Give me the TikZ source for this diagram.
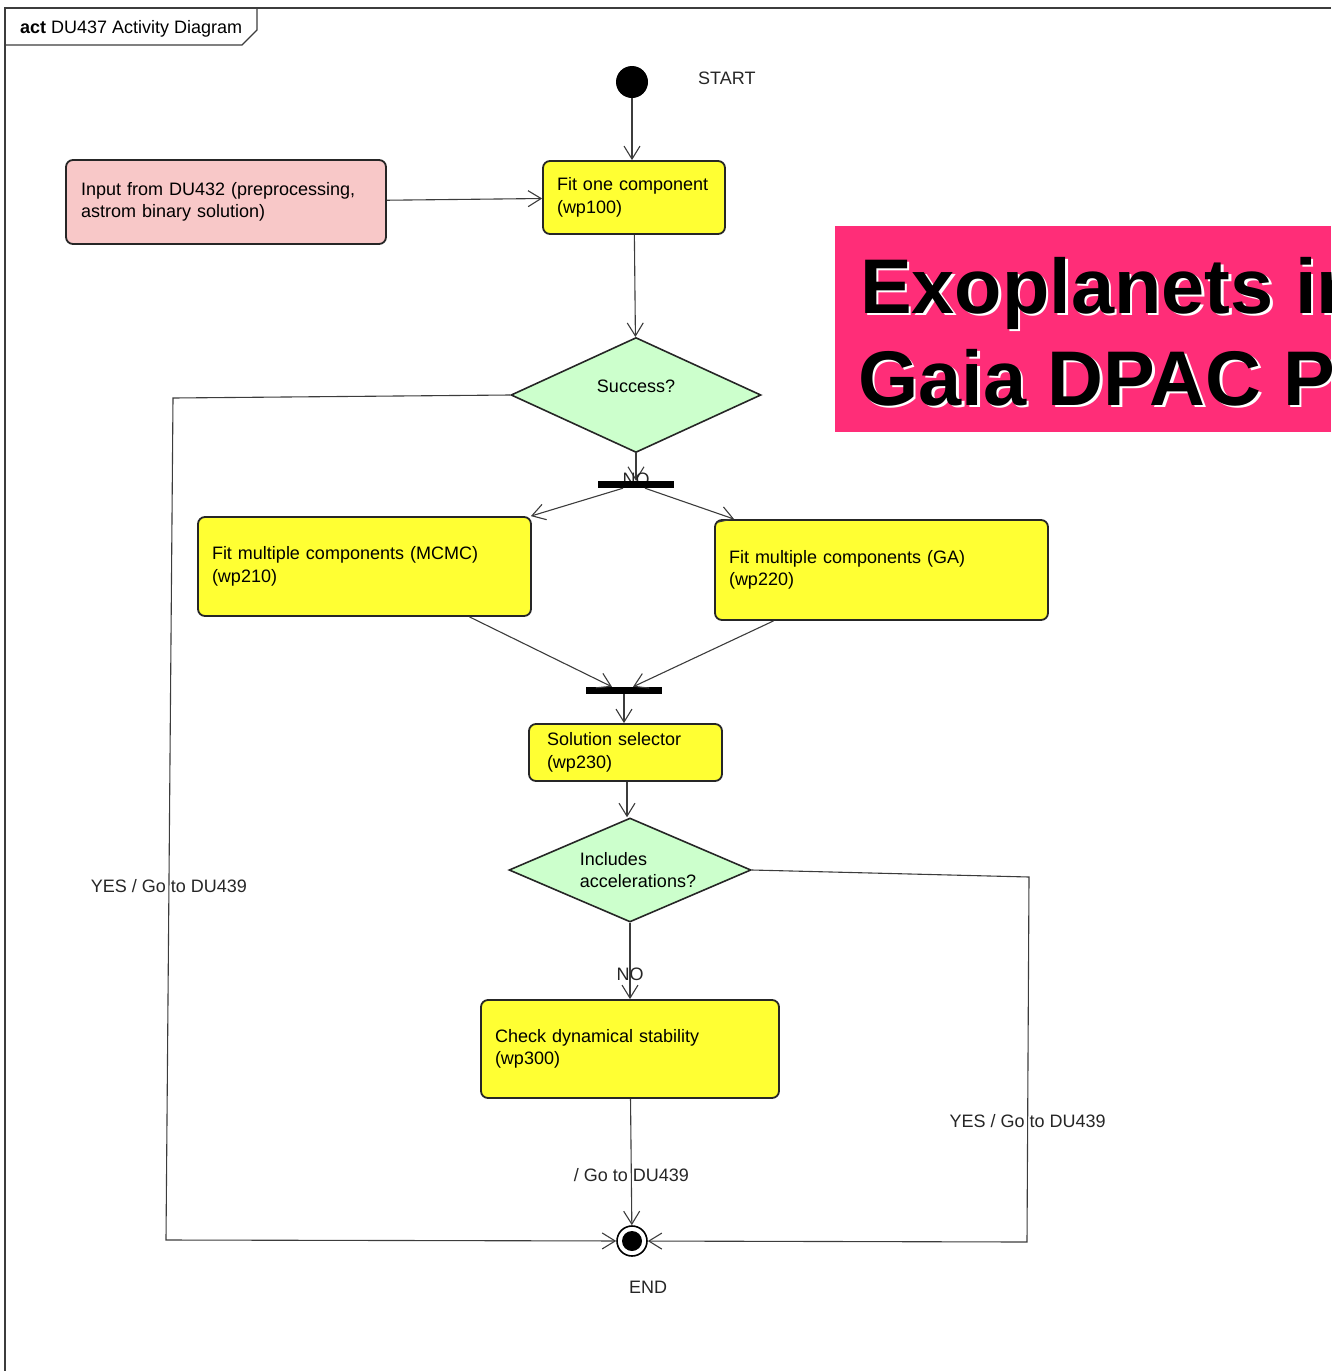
\documentclass[tikz,border=0pt]{standalone}
\usepackage{fontspec}
\setmainfont{Liberation Sans}
\usepackage{tikz}
\usetikzlibrary{arrows.meta,positioning,calc,shapes.geometric,backgrounds}
\definecolor{actyellow}{RGB}{255,255,51}
\definecolor{actgreen}{RGB}{204,255,204}
\definecolor{actpink}{RGB}{248,200,200}
\definecolor{bannerpink}{RGB}{255,45,120}
\definecolor{linegray}{RGB}{60,60,60}
\tikzset{
  actbox/.style={draw=black!85, line width=1.8pt, rounded corners=7pt, fill=actyellow, align=left, inner xsep=14pt, inner ysep=0pt, font=\fontsize{18}{22.5}\selectfont},
  inbox/.style={actbox, fill=actpink},
  decide/.style={diamond, draw=black!85, line width=1.6pt, fill=actgreen, inner sep=0pt, align=left, font=\fontsize{18}{22.5}\selectfont},
  bar/.style={fill=black, inner sep=0pt, minimum height=7pt},
  arr/.style={-{Straight Barb[length=13pt,width=16pt]}, linegray, line width=1.1pt},
  lbl/.style={font=\fontsize{18}{22}\selectfont, inner sep=1pt, text=black!85},
  banner/.style={font=\fontsize{77.5}{92}\selectfont\bfseries, anchor=base west, inner sep=0pt},
}

\begin{document}
\begin{tikzpicture}[x=1pt, y=-1pt]
  \useasboundingbox (0,0) rectangle (1331,1371);
  % frame and name tab
  \draw[linegray, line width=1.2pt] (5,1371) -- (5,8) -- (1331,8);
  \draw[linegray, line width=1.2pt] (257,8) -- (257,30) -- (242,45) -- (5,45);
  \node[anchor=west, inner sep=0pt, font=\fontsize{18}{20}\selectfont] (title) at (20,29) {\textbf{act} DU437 Activity Diagram};

  % nodes
  \node[circle, fill=black, minimum size=32pt, inner sep=0pt] (start) at (632,82) {};
  \node[lbl, anchor=west] (startlbl) at (697,78) {START};
  \node[actbox, minimum width=182pt, minimum height=73pt, text width=154pt] (fitone) at (634,197.5) {Fit one component\\(wp100)};
  \node[inbox, minimum width=320pt, minimum height=84pt, text width=290pt, inner xsep=15pt] (input) at (226,202) {Input from DU432 (preprocessing,\\astrom binary solution)};
  \node[decide, minimum width=250pt, minimum height=115pt] (success) at (636,395) {\raisebox{3pt}[0pt][0pt]{Success?}};
  \node[bar, minimum width=76pt] (forkbar) at (636,484.5) {};
  \node[actbox, minimum width=333pt, minimum height=99pt, text width=305pt] (mcmc) at (364.5,566.5) {Fit multiple components (MCMC)\\(wp210)};
  \node[actbox, minimum width=333pt, minimum height=100pt, text width=305pt] (ga) at (881.5,570) {Fit multiple components (GA)\\(wp220)};
  \node[bar, minimum width=76pt] (joinbar) at (624,690.5) {};
  \node[actbox, minimum width=193pt, minimum height=57pt, text width=157pt, inner xsep=18pt] (selector) at (625.5,752.5) {Solution selector\\(wp230)};
  \node[decide, shape aspect=2.35, minimum width=242pt, minimum height=104pt] (accel) at (630,870) {\hspace*{16pt}Includes\\\hspace*{16pt}accelerations?};
  \node[actbox, minimum width=298pt, minimum height=98pt, text width=270pt] (check) at (630,1049) {Check dynamical stability\\(wp300)};
  \node[circle, draw=black, line width=1.6pt, fill=white, minimum size=30pt, inner sep=0pt,
        path picture={\fill[black] (path picture bounding box.center) circle (10pt);}] (finish) at (632,1241) {};
  \node[lbl] (endlbl) at (648,1287) {END};

  \coordinate (lbend1) at (173,398);
  \coordinate (lbend2) at (166,1240);
  \coordinate (rbend1) at (1029,877);
  \coordinate (rbend2) at (1027,1242);

  % connectors
  \draw[arr] (start) -- (start |- fitone.north);
  \draw[arr] (input) -- (fitone);
  \draw[arr] (fitone) -- (success);
  \begin{pgfonlayer}{background}
    \draw[arr] (success) -- node[lbl, pos=0.93] {NO} (forkbar);
  \end{pgfonlayer}
  \draw[arr] ([xshift=-13pt]forkbar.south) -- ([xshift=-1pt]mcmc.north east);
  \draw[arr] ([xshift=9pt]forkbar.south) -- ([xshift=20pt]ga.north west);
  \draw[arr] ([xshift=105pt]mcmc.south) -- ([xshift=-12pt]joinbar.north);
  \draw[arr] ([xshift=-108pt]ga.south) -- ([xshift=9pt]joinbar.north);
  \draw[arr] (joinbar) -- (joinbar |- selector.north);
  \draw[arr] ([xshift=1.5pt]selector.south) -- ([xshift=1.5pt]selector.south |- accel.north);
  \draw[arr] (accel) -- node[lbl, pos=0.68] {NO} (check);
  \draw[arr] (check) -- node[lbl, pos=0.6] {/ Go to DU439} (finish);
  \draw[arr] (success.west) -- (lbend1) -- node[lbl, pos=0.58] {YES / Go to DU439} (lbend2) -- (finish);
  \draw[arr] (accel.east) -- (rbend1) -- node[lbl, pos=0.67] {YES / Go to DU439} (rbend2) -- (finish);

  % title banner
  \begin{scope}
    \clip (835,226) rectangle (1331,432);
    \fill[bannerpink] (835,226) rectangle (1331,432);
    \node[banner, white] (exoglow) at (862.5,315.5) {Exoplanets in};
    \node[banner, white] (gaiaglow) at (860.5,407.5) {Gaia DPAC P};
    \node[banner] (exo) at (860,313) {Exoplanets in};
    \node[banner] (gaia) at (858,405) {Gaia DPAC P};
  \end{scope}
\end{tikzpicture}
\end{document}
